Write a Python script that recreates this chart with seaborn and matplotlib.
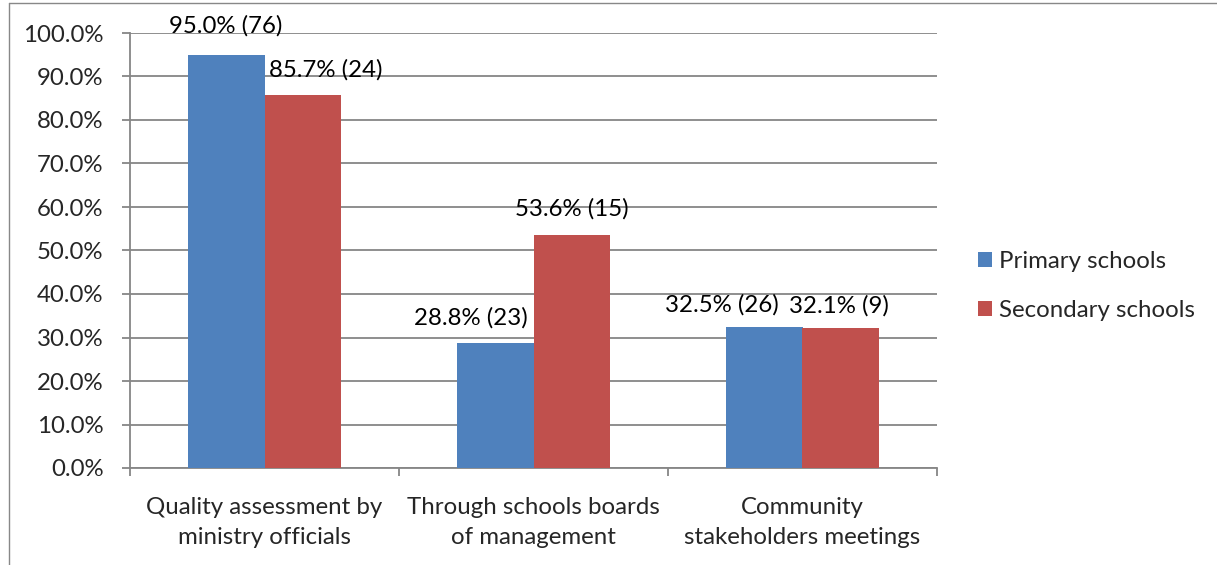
import matplotlib
matplotlib.use("Agg")
import matplotlib.pyplot as plt
import seaborn as sns
import pandas as pd
from matplotlib.patches import Patch
from matplotlib.lines import Line2D

categories = ["Quality assessment by\nministry officials",
              "Through schools boards\nof management",
              "Community\nstakeholders meetings"]
series = ["Primary schools", "Secondary schools"]
primary_pct = [95.0, 28.8, 32.5]
primary_n = [76, 23, 26]
secondary_pct = [85.7, 53.6, 32.1]
secondary_n = [24, 15, 9]
yticks = [0, 10, 20, 30, 40, 50, 60, 70, 80, 90, 100]

colors = ["#4F81BD", "#C0504D"]
grid_c = "#868686"
FS = 17.3

sns.set_theme(style="white")
plt.rcParams['font.family'] = ['Lato', 'DejaVu Sans']

df = pd.DataFrame({
    "category": categories * 2,
    "series": [series[0]] * 3 + [series[1]] * 3,
    "pct": primary_pct + secondary_pct,
    "n": primary_n + secondary_n,
})

W, H = 1217, 565
fig = plt.figure(figsize=(W / 100, H / 100), dpi=100)
ax = fig.add_axes([130 / W, 1 - 468 / H, (937 - 130) / W, (468 - 33) / H])

sns.barplot(data=df, x="category", y="pct", hue="series", order=categories,
            hue_order=series, palette=colors, width=0.572, saturation=1,
            edgecolor="none", linewidth=0, ax=ax, legend=False, zorder=3)

ax.set_xlim(-0.5, 2.5)
ax.set_ylim(0, 100)
ax.set_yticks(yticks)
ax.set_yticklabels([f"{v:.1f}%" for v in yticks])
ax.set_xticks([0, 1, 2])
ax.set_xticklabels(categories)
ax.set_xlabel("")
ax.set_ylabel("")

ax.grid(axis="y", color=grid_c, linewidth=1.3, zorder=0)
ax.set_axisbelow(True)
for s in ["top", "right"]:
    ax.spines[s].set_visible(False)
for s in ["left", "bottom"]:
    ax.spines[s].set_color(grid_c)
    ax.spines[s].set_linewidth(1.3)

ax.tick_params(axis="y", which="major", length=5.5, width=1.3, color=grid_c,
               labelsize=FS, pad=13.5, left=True, direction="out")
ax.tick_params(axis="x", which="major", length=0, labelsize=FS, pad=21)
ax.set_xticks([-0.5, 0.5, 1.5, 2.5], minor=True)
ax.tick_params(axis="x", which="minor", length=5.5, width=1.3, color=grid_c,
               bottom=True, direction="out")
for lbl in ax.get_xticklabels():
    lbl.set_linespacing(1.5)

# data labels
x_off = [[0, -24, -42], [23, 0, -2]]
y_off = [[22, 18, 15], [19, 19, 16]]
for si, cont in enumerate(ax.containers):
    sub = df[df["series"] == series[si]].reset_index(drop=True)
    for ci, bar in enumerate(cont):
        xc = bar.get_x() + bar.get_width() / 2
        top = bar.get_height()
        txt = f"{sub.loc[ci, 'pct']:.1f}% ({sub.loc[ci, 'n']})"
        ax.annotate(txt, xy=(xc, top), xytext=(x_off[si][ci], y_off[si][ci]),
                    textcoords="offset pixels", ha="center", va="baseline",
                    fontsize=FS, color="black", annotation_clip=False)

handles = [Patch(facecolor=c, edgecolor="none") for c in colors]
fig.legend(handles, series, loc="center left",
           bbox_to_anchor=(978 / W, 1 - 286 / H), frameon=False,
           fontsize=FS, handlelength=0.58, handleheight=0.58,
           handletextpad=0.3, labelspacing=1.17, borderaxespad=0,
           borderpad=0)

# outer chart border (top and left visible)
fig.add_artist(Line2D([9 / W, 1], [1 - 3 / H, 1 - 3 / H], color="#888888",
                      linewidth=1, transform=fig.transFigure))
fig.add_artist(Line2D([9 / W, 9 / W], [0, 1 - 3 / H], color="#888888",
                      linewidth=1, transform=fig.transFigure))

fig.savefig("out.png", dpi=100, facecolor="white")
